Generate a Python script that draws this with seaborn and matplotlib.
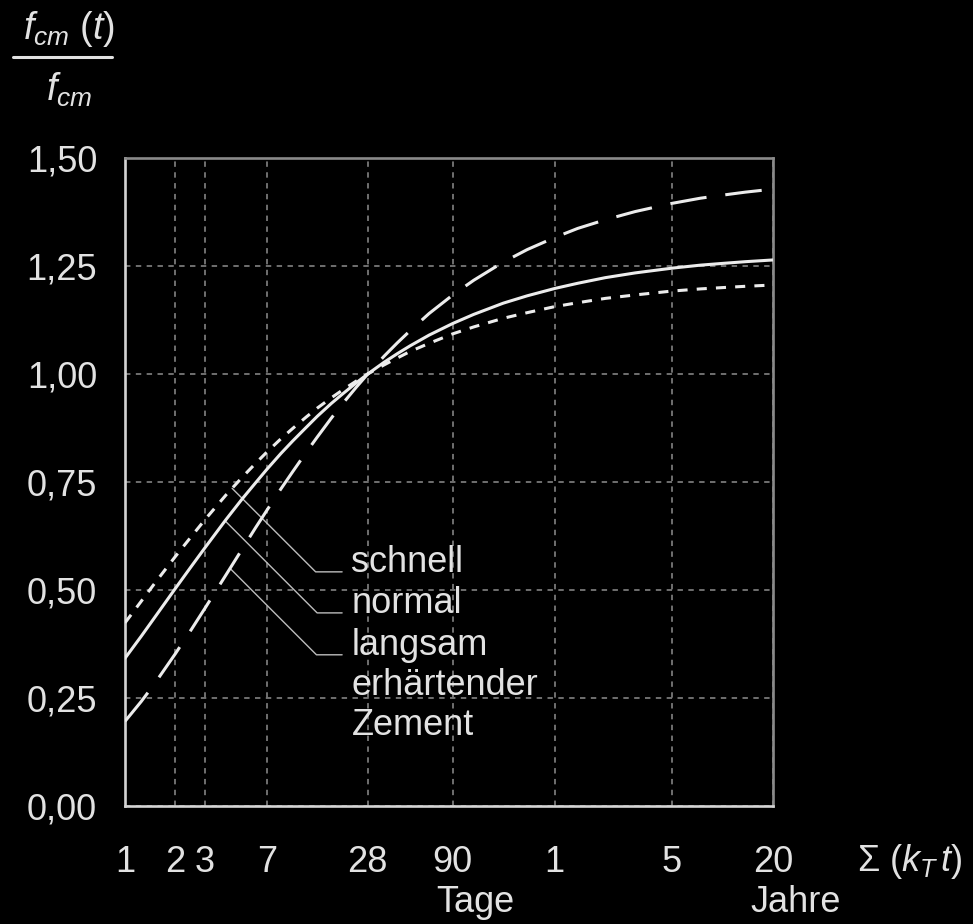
import numpy as np
import pandas as pd
import matplotlib
matplotlib.use("Agg")
import matplotlib.pyplot as plt
from matplotlib.lines import Line2D
import seaborn as sns

# ---------------- data ----------------
days = [1, 1.25, 1.5, 2, 2.5, 3, 4, 5, 6, 7, 8.5, 10, 12, 14, 17, 20, 24, 28, 35, 42,
        50, 65, 90, 120, 180, 250, 365, 500, 730, 1100, 1825, 2700, 3650, 5000, 7300]
schnell = [0.424, 0.474, 0.515, 0.578, 0.625, 0.663, 0.720, 0.761, 0.793, 0.819, 0.850,
           0.874, 0.900, 0.921, 0.945, 0.964, 0.984, 1.000, 1.021, 1.037, 1.052, 1.071,
           1.093, 1.109, 1.129, 1.142, 1.156, 1.165, 1.175, 1.183, 1.192, 1.197, 1.200,
           1.203, 1.206]
normal = [0.342, 0.393, 0.436, 0.504, 0.556, 0.598, 0.663, 0.711, 0.748, 0.779, 0.816,
          0.845, 0.876, 0.902, 0.932, 0.955, 0.980, 1.000, 1.027, 1.047, 1.065, 1.090,
          1.117, 1.138, 1.164, 1.181, 1.198, 1.210, 1.223, 1.234, 1.245, 1.252, 1.256,
          1.260, 1.264]
langsam = [0.196, 0.242, 0.283, 0.353, 0.410, 0.458, 0.535, 0.595, 0.644, 0.684, 0.734,
           0.774, 0.818, 0.854, 0.898, 0.933, 0.970, 1.000, 1.041, 1.072, 1.100, 1.140,
           1.183, 1.217, 1.259, 1.288, 1.316, 1.337, 1.357, 1.376, 1.395, 1.407, 1.414,
           1.421, 1.428]

x_ticks = [1, 2, 3, 7, 28, 90, 365, 1825, 7300]
x_tick_labels = ["1", "2", "3", "7", "28", "90", "1", "5", "20"]
y_ticks = [0.0, 0.25, 0.5, 0.75, 1.0, 1.25, 1.5]
y_tick_labels = ["0,00", "0,25", "0,50", "0,75", "1,00", "1,25", "1,50"]
series_names = ["schnell", "normal", "langsam"]
label_extra = ["erhärtender", "Zement"]

# ---------------- style ----------------
FG = "#e2e2e2"
sns.set_theme(style="white", rc={
    "figure.facecolor": "black",
    "axes.facecolor": "black",
    "savefig.facecolor": "black",
    "text.color": FG,
    "xtick.color": FG,
    "ytick.color": FG,
})
plt.rcParams["font.family"] = ["Liberation Sans", "DejaVu Sans"]
plt.rcParams["mathtext.fontset"] = "custom"
plt.rcParams["mathtext.rm"] = "Liberation Sans"
plt.rcParams["mathtext.it"] = "Liberation Sans:italic"
plt.rcParams["mathtext.sf"] = "Liberation Sans"

W, H = 973, 924
fig = plt.figure(figsize=(W / 100, H / 100), dpi=100)
ax = fig.add_axes([125 / W, 1 - 806 / H, 648 / W, 648 / H])

df = pd.DataFrame({"t": days, "schnell": schnell, "normal": normal, "langsam": langsam})

LW = 2.2
sns.lineplot(data=df, x="t", y="schnell", ax=ax, color="#ececec", lw=LW,
             linestyle=(0, (3.3, 3.0)), zorder=5)
sns.lineplot(data=df, x="t", y="normal", ax=ax, color="#ececec", lw=LW,
             linestyle="-", zorder=5)
sns.lineplot(data=df, x="t", y="langsam", ax=ax, color="#ececec", lw=LW,
             linestyle=(0, (12, 6.2)), zorder=5)

ax.set_xscale("log")
ax.set_xlim(days[0], days[-1])
ax.set_ylim(0, 1.5)
ax.set_xticks(x_ticks)
ax.set_xticklabels(x_tick_labels)
ax.xaxis.set_minor_locator(matplotlib.ticker.NullLocator())
ax.set_yticks(y_ticks)
ax.set_yticklabels(y_tick_labels)
ax.set_xlabel("")
ax.set_ylabel("")
ax.tick_params(axis="both", length=0, labelsize=26, labelcolor=FG)
ax.tick_params(axis="x", pad=28)
ax.tick_params(axis="y", pad=20)

ax.grid(True, color="#787878", lw=1.3, linestyle=(0, (3, 3)))
ax.set_axisbelow(True)

for side in ["left", "bottom"]:
    ax.spines[side].set_color("#d4d4d4")
    ax.spines[side].set_linewidth(1.9)
for side in ["top", "right"]:
    ax.spines[side].set_color("#8a8a8a")
    ax.spines[side].set_linewidth(1.9)

# ---------------- leader lines + labels ----------------
leader_t = [4.35, 3.95, 4.23]
curves = [schnell, normal, langsam]
elbow_y = [0.542, 0.447, 0.350]
for name, tt, cv, ey in zip(series_names, leader_t, curves, elbow_y):
    yy = float(np.interp(np.log(tt), np.log(days), cv))
    ax.annotate("", xy=(tt, yy), xytext=(19.7, ey),
                arrowprops=dict(arrowstyle="-", color="#bdbdbd", lw=1.0,
                                shrinkA=0, shrinkB=0,
                                connectionstyle="angle,angleA=0,angleB=-45,rad=0"))
    ax.text(22.4, ey, name, fontsize=26, color=FG, ha="left", va="baseline", zorder=6)
ax.text(22.4, 0.257, label_extra[0], fontsize=26, color=FG, ha="left", va="baseline")
ax.text(22.4, 0.164, label_extra[1], fontsize=26, color=FG, ha="left", va="baseline")

# ---------------- axis titles ----------------
fig.text(69 / W, 1 - 29 / H, r"$f_{cm}\ \mathit{(t)}$", fontsize=27, color=FG,
         ha="center", va="center")
fig.add_artist(Line2D([13 / W, 112 / W], [1 - 57 / H, 1 - 57 / H], color=FG, lw=2.2))
fig.text(69 / W, 1 - 90 / H, r"$f_{cm}$", fontsize=27, color=FG,
         ha="center", va="center")
fig.text(857 / W, 1 - 871 / H, r"$\Sigma\ \mathit{(k_T\,t)}$", fontsize=26, color=FG,
         ha="left", va="baseline")
fig.text(436 / W, 1 - 912 / H, "Tage", fontsize=26, color=FG, ha="left", va="baseline")
fig.text(750 / W, 1 - 912 / H, "Jahre", fontsize=26, color=FG, ha="left", va="baseline")

fig.savefig("out.png", dpi=100, facecolor="black")
